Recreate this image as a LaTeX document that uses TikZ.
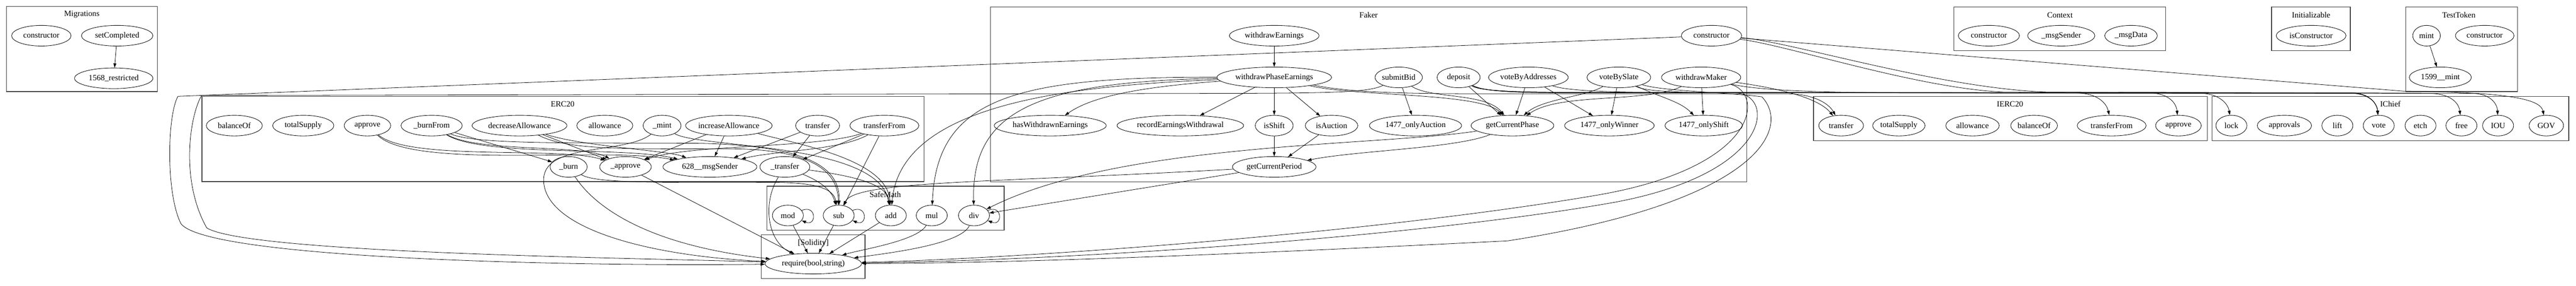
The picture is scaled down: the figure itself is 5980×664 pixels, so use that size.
\documentclass[tikz,border=0pt]{standalone}
\usepackage{fontspec}
\setmainfont{Liberation Serif}
\usetikzlibrary{arrows.meta,shapes.geometric}

\tikzset{
  fn/.style={draw, ellipse, line width=0.75pt, inner sep=0pt, minimum height=36pt,
    font=\fontsize{14pt}{16pt}\selectfont},
  title/.style={inner sep=0pt, font=\fontsize{14pt}{16pt}\selectfont},
  cluster/.style={draw=black!75, line width=1.2pt},
  call/.style={->, line width=0.7pt},
}

\begin{document}
\begin{tikzpicture}[x=0.75pt, y=-0.75pt, >={Triangle[length=7.5pt,width=5pt]}]
  \fill[white] (0,0) rectangle (5980,664);
  \useasboundingbox (0,0) rectangle (5980,664);

  % clusters
  \draw[cluster] (15,15) rectangle (365,213);
  \node[title] (t-mig) at (190,33) {Migrations};
  \draw[cluster] (2299,16) rectangle (4055,423);
  \node[title] (t-fk) at (3177,35) {Faker};
  \draw[cluster] (4536,16) rectangle (5027,118);
  \node[title] (t-cx) at (4782,35) {Context};
  \draw[cluster] (5273,16) rectangle (5456,118);
  \node[title] (t-in) at (5365,35) {Initializable};
  \draw[cluster] (5585,16) rectangle (5844,213);
  \node[title] (t-tt) at (5708,35) {TestToken};
  \draw[cluster] (469,224) rectangle (2145,422);
  \node[title] (t-e) at (1306,242) {ERC20};
  \draw[cluster] (4210,224) rectangle (5124,327);
  \node[title] (t-ie) at (4666,242) {IERC20};
  \draw[cluster] (5135,224) rectangle (5963,327);
  \node[title] (t-ic) at (5549,242) {IChief};
  \draw[cluster] (1780,433) rectangle (2331,535);
  \node[title] (t-sm) at (2055,452) {SafeMath};
  \draw[cluster] (1767,546) rectangle (2008,648);
  \node[title] (t-so) at (1888,565) {[Solidity]};

  % Migrations
  \node[fn, minimum width=103.5pt] (mig-ctor) at (96,83) {constructor};
  \node[fn, minimum width=124.5pt] (mig-set) at (272,83) {setCompleted};
  \node[fn, minimum width=136.5pt] (mig-restr) at (264,182) {1568\_restricted};

  % Faker
  \node[fn, minimum width=156pt] (fk-we) at (2958,83) {withdrawEarnings};
  \node[fn, minimum width=105pt] (fk-ctor) at (3973,83) {constructor};
  \node[fn, minimum width=199.5pt] (fk-wpe) at (2958,180) {withdrawPhaseEarnings};
  \node[fn, minimum width=81pt] (fk-bid) at (3247,180) {submitBid};
  \node[fn, minimum width=75pt] (fk-dep) at (3386,180) {deposit};
  \node[fn, minimum width=132pt] (fk-va) at (3548,180) {voteByAddresses};
  \node[fn, minimum width=111pt] (fk-vs) at (3758,180) {voteBySlate};
  \node[fn, minimum width=138pt] (fk-wm) at (3949,180) {withdrawMaker};
  \node[fn, minimum width=195pt] (fk-has) at (2438,292) {hasWithdrawnEarnings};
  \node[fn, minimum width=220.5pt] (fk-rec) at (2740,292) {recordEarningsWithdrawal};
  \node[fn, minimum width=66pt] (fk-shift) at (2958,292) {isShift};
  \node[fn, minimum width=91.5pt] (fk-auc) at (3091,292) {isAuction};
  \node[fn, minimum width=160.5pt] (fk-oa) at (3286,292) {1477\_onlyAuction};
  \node[fn, minimum width=144pt] (fk-gcp) at (3511,292) {getCurrentPhase};
  \node[fn, minimum width=156pt] (fk-ow) at (3736,292) {1477\_onlyWinner};
  \node[fn, minimum width=135pt] (fk-os) at (3955,292) {1477\_onlyShift};
  \node[fn, minimum width=145.5pt] (fk-gper) at (2958,388) {getCurrentPeriod};

  % Context, Initializable, TestToken
  \node[fn, minimum width=106.5pt] (cx-ctor) at (4617,83) {constructor};
  \node[fn, minimum width=117pt] (cx-sender) at (4785,83) {\_msgSender};
  \node[fn, minimum width=91.5pt] (cx-data) at (4947,83) {\_msgData};
  \node[fn, minimum width=121.5pt] (in-isc) at (5365,83) {isConstructor};
  \node[fn, minimum width=48pt] (tt-mint) at (5633,83) {mint};
  \node[fn, minimum width=102pt] (tt-ctor) at (5768,83) {constructor};
  \node[fn, minimum width=108pt] (tt-mintint) at (5665,180) {1599\_\_mint};

  % ERC20
  \node[fn, minimum width=97.5pt] (e-balance) at (544,292) {balanceOf};
  \node[fn, minimum width=106.5pt] (e-supply) at (704,292) {totalSupply};
  \node[fn, minimum width=81pt] (e-approve) at (853,292) {approve};
  \node[fn, minimum width=106.5pt] (e-burnfrom) at (1002,292) {\_burnFrom};
  \node[fn, minimum width=165pt] (e-decallow) at (1206,292) {decreaseAllowance};
  \node[fn, minimum width=97.5pt] (e-allow) at (1404,292) {allowance};
  \node[fn, minimum width=66pt] (e-mint) at (1537,292) {\_mint};
  \node[fn, minimum width=144pt] (e-incallow) at (1692,292) {increaseAllowance};
  \node[fn, minimum width=76.5pt] (e-transfer) at (1898,292) {transfer};
  \node[fn, minimum width=120pt] (e-transferfrom) at (2053,292) {transferFrom};
  \node[fn, minimum width=64.5pt] (e-burn) at (1320,388) {\_burn};
  \node[fn, minimum width=90pt] (e-iapprove) at (1452,388) {\_approve};
  \node[fn, minimum width=163.5pt] (e-msgsender) at (1648,388) {628\_\_msgSender};
  \node[fn, minimum width=87pt] (e-itransfer) at (1822,388) {\_transfer};

  % IERC20
  \node[fn, minimum width=78pt] (ie-transfer) at (4274,292) {transfer};
  \node[fn, minimum width=90pt] (ie-supply) at (4408,292) {totalSupply};
  \node[fn, minimum width=93pt] (ie-allow) at (4579,292) {allowance};
  \node[fn, minimum width=81pt] (ie-balance) at (4722,292) {balanceOf};
  \node[fn, minimum width=120pt] (ie-transferfrom) at (4902,292) {transferFrom};
  \node[fn, minimum width=79.5pt] (ie-approve) at (5057,292) {approve};

  % IChief
  \node[fn, minimum width=54pt] (ic-lock) at (5180,292) {lock};
  \node[fn, minimum width=94.5pt] (ic-approvals) at (5303,292) {approvals};
  \node[fn, minimum width=54pt] (ic-lift) at (5426,292) {lift};
  \node[fn, minimum width=54pt] (ic-vote) at (5522,292) {vote};
  \node[fn, minimum width=54pt] (ic-etch) at (5619,292) {etch};
  \node[fn, minimum width=54pt] (ic-free) at (5714,292) {free};
  \node[fn, minimum width=54pt] (ic-iou) at (5799,292) {IOU};
  \node[fn, minimum width=60pt] (ic-gov) at (5911,292) {GOV};

  % SafeMath, Solidity
  \node[fn, minimum width=54pt] (sm-mod) at (1829,501) {mod};
  \node[fn, minimum width=54pt] (sm-sub) at (1947,501) {sub};
  \node[fn, minimum width=54pt] (sm-add) at (2068,501) {add};
  \node[fn, minimum width=54pt] (sm-mul) at (2163,501) {mul};
  \node[fn, minimum width=54pt] (sm-div) at (2261,501) {div};
  \node[fn, minimum width=168pt] (so-req) at (1888,613) {require(bool,string)};

  % calls inside clusters
  \draw[call] (mig-set) -- (mig-restr);
  \draw[call] (tt-mint) -- (tt-mintint);
  \draw[call] (fk-we) -- (fk-wpe);
  \draw[call] (fk-wpe) .. controls (2600,205) and (2520,235) .. (fk-has);
  \draw[call] (fk-wpe) -- (fk-rec);
  \draw[call] (fk-wpe) -- (fk-shift);
  \draw[call] (fk-wpe) -- (fk-auc);
  \draw[call] (fk-wpe) .. controls (3150,225) and (3440,215) .. (fk-gcp);
  \draw[call] (fk-bid) -- (fk-oa);
  \draw[call] (fk-bid) .. controls (3320,230) and (3450,215) .. (fk-gcp);
  \draw[call] (fk-dep) -- (fk-gcp);
  \draw[call] (fk-va) -- (fk-gcp);
  \draw[call] (fk-va) -- (fk-ow);
  \draw[call] (fk-vs) .. controls (3680,225) and (3580,230) .. (fk-gcp);
  \draw[call] (fk-vs) -- (fk-ow);
  \draw[call] (fk-vs) .. controls (3850,225) and (3900,235) .. (fk-os);
  \draw[call] (fk-wm) .. controls (3820,240) and (3620,215) .. (fk-gcp);
  \draw[call] (fk-wm) -- (fk-os);
  \draw[call] (fk-shift) -- (fk-gper);
  \draw[call] (fk-auc) -- (fk-gper);
  \draw[call] (fk-gcp) .. controls (3380,345) and (3150,350) .. (fk-gper);

  \draw[call] (e-approve) .. controls (950,375) and (1300,340) .. (e-iapprove);
  \draw[call] (e-approve) .. controls (960,395) and (1400,340) .. (e-msgsender);
  \draw[call] (e-burnfrom) -- (e-burn);
  \draw[call] (e-burnfrom) .. controls (1110,355) and (1350,335) .. (e-iapprove);
  \draw[call] (e-burnfrom) .. controls (1120,365) and (1450,340) .. (e-msgsender);
  \draw[call] (e-decallow) -- (e-iapprove);
  \draw[call] (e-decallow) .. controls (1350,340) and (1550,350) .. (e-msgsender);
  \draw[call] (e-incallow) -- (e-iapprove);
  \draw[call] (e-incallow) -- (e-msgsender);
  \draw[call] (e-transfer) -- (e-msgsender);
  \draw[call] (e-transfer) -- (e-itransfer);
  \draw[call] (e-transferfrom) -- (e-itransfer);
  \draw[call] (e-transferfrom) .. controls (1950,350) and (1800,350) .. (e-msgsender);
  \draw[call] (e-transferfrom) .. controls (1900,345) and (1600,335) .. (e-iapprove);

  \draw[call] (sm-mod.20) .. controls +(35,-15) and +(35,15) .. (sm-mod.-20);
  \draw[call] (sm-sub.20) .. controls +(35,-15) and +(35,15) .. (sm-sub.-20);
  \draw[call] (sm-div.20) .. controls +(35,-15) and +(35,15) .. (sm-div.-20);

  % ERC20 to SafeMath and Solidity
  \draw[call] (e-burnfrom) .. controls (1100,335) and (1300,332) .. (1600,333) .. controls (1900,335) and (1950,400) .. (sm-sub);
  \draw[call] (e-decallow) .. controls (1320,350) and (1450,346) .. (1700,346) .. controls (1920,348) and (1945,420) .. (sm-sub);
  \draw[call] (e-mint) .. controls (1620,345) and (2040,330) .. (sm-add);
  \draw[call] (e-mint) .. controls (1450,360) and (1260,330) .. (1262,420) .. controls (1265,530) and (1500,595) .. (so-req);
  \draw[call] (e-incallow) .. controls (1850,335) and (2060,370) .. (sm-add);
  \draw[call] (e-transferfrom) -- (sm-sub);
  \draw[call] (e-burn) .. controls (1380,425) and (1500,425) .. (1800,424) .. controls (1900,425) and (1935,440) .. (sm-sub);
  \draw[call] (e-burn) .. controls (1380,480) and (1500,570) .. (so-req);
  \draw[call] (e-iapprove) -- (so-req);
  \draw[call] (e-itransfer) .. controls (1770,470) and (1780,560) .. (so-req);
  \draw[call] (e-itransfer) .. controls (1900,420) and (1930,440) .. (sm-sub);
  \draw[call] (e-itransfer) .. controls (1990,410) and (2060,430) .. (sm-add);

  \draw[call] (sm-mod) -- (so-req);
  \draw[call] (sm-sub) -- (so-req);
  \draw[call] (sm-add) -- (so-req);
  \draw[call] (sm-mul) .. controls (2130,560) and (2000,580) .. (so-req);
  \draw[call] (sm-div) .. controls (2230,570) and (2050,590) .. (so-req);

  % Faker to SafeMath
  \draw[call] (fk-wpe) .. controls (2350,178) and (2175,230) .. (sm-mul);
  \draw[call] (fk-wpe) .. controls (2400,190) and (2255,260) .. (sm-div);
  \draw[call] (fk-wpe) .. controls (2450,200) and (2090,250) .. (sm-add);
  \draw[call] (fk-gcp) .. controls (3200,340) and (2600,330) .. (sm-div);
  \draw[call] (fk-gper) -- (sm-div);
  \draw[call] (fk-gper) .. controls (2300,425) and (1985,420) .. (sm-sub);

  % Faker to require
  \draw[call] (fk-ctor) -- (413,224) .. controls (388,270) and (385,450) .. (420,520) .. controls (480,600) and (1300,620) .. (so-req);
  \draw[call] (fk-bid) .. controls (3180,214) and (3100,216) .. (2900,217) -- (468,222) .. controls (440,270) and (418,420) .. (480,530) .. controls (580,590) and (1500,600) .. (so-req);
  \draw[call] (fk-wm) .. controls (4095,215) and (4090,390) .. (3700,455) .. controls (3200,540) and (2400,600) .. (so-req);
  \draw[call] (fk-dep) .. controls (3450,216) and (3550,216) .. (3700,216) -- (4030,216) .. controls (4120,220) and (4120,400) .. (3750,470) .. controls (3300,550) and (2500,605) .. (so-req);
  \draw[call] (fk-vs) .. controls (3860,212) and (4000,214) .. (4090,225) .. controls (4160,300) and (4080,470) .. (3500,560) .. controls (3000,585) and (2400,612) .. (so-req);

  % Faker to IERC20 and IChief
  \draw[call] (fk-wpe) .. controls (3150,218) and (3300,218) .. (3500,218) -- (4150,218) .. controls (4210,219) and (4245,240) .. (ie-transfer);
  \draw[call] (fk-wm) .. controls (4090,200) and (4215,220) .. (ie-transfer);
  \draw[call] (fk-wm) .. controls (4100,214) and (4300,216) .. (4500,216) -- (5640,217) .. controls (5690,218) and (5708,240) .. (ic-free);
  \draw[call] (fk-dep) .. controls (3440,214) and (3550,215) .. (3700,215) -- (4820,216) .. controls (4870,217) and (4890,240) .. (ie-transferfrom);
  \draw[call] (fk-dep) .. controls (3440,214) and (3550,215) .. (3700,215) -- (5110,217) .. controls (5150,218) and (5172,240) .. (ic-lock);
  \draw[call] (fk-dep) .. controls (3440,214) and (3550,215) .. (3700,215) -- (5460,217) .. controls (5500,218) and (5518,240) .. (ic-vote);
  \draw[call] (fk-va) .. controls (3640,212) and (3750,215) .. (3900,215) -- (5460,216) .. controls (5500,217) and (5518,240) .. (ic-vote);
  \draw[call] (fk-vs) .. controls (3820,213) and (3900,215) .. (4000,215) -- (5460,216) .. controls (5500,217) and (5518,240) .. (ic-vote);
  \draw[call] (fk-ctor) .. controls (4150,105) and (4450,205) .. (4650,214) -- (4990,216) .. controls (5035,217) and (5052,240) .. (ie-approve);
  \draw[call] (fk-ctor) .. controls (4150,95) and (4500,205) .. (4750,214) -- (5740,217) .. controls (5780,218) and (5797,240) .. (ic-iou);
  \draw[call] (fk-ctor) -- (5580,212) .. controls (5850,214) and (5898,235) .. (ic-gov);
\end{tikzpicture}
\end{document}
